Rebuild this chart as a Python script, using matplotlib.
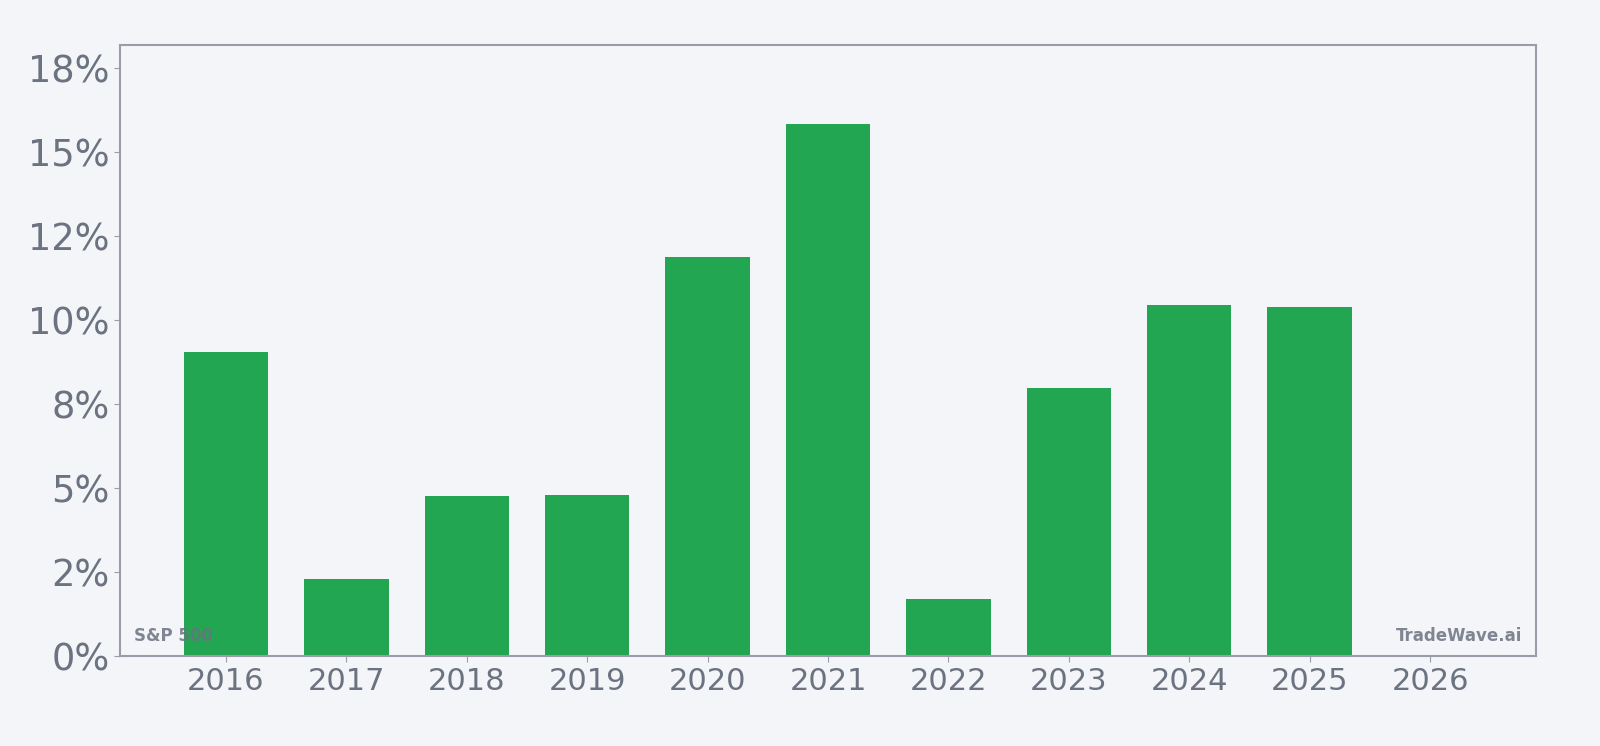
import numpy as np
import matplotlib.pyplot as plt
from matplotlib.ticker import FuncFormatter

# Datos
years = [2016, 2017, 2018, 2019, 2020, 2021, 2022, 2023, 2024, 2025, 2026]
returns = [9.05, 2.3, 4.77, 4.8, 11.88, 15.83, 1.72, 7.99, 10.45, 10.39, 0.0]

bg = '#f3f5f8'
txt = '#6b7280'
edge = '#9b9ca8'

fig = plt.figure(figsize=(16, 7.46), dpi=100, facecolor=bg)
ax = fig.add_axes([0.075, 0.12, 0.885, 0.82], facecolor=bg)

ax.bar(years, returns, width=0.7, color='#22a652', zorder=2)

ax.set_xlim(2016 - 0.88, 2026 + 0.88)
ax.set_ylim(0, 18.2)
ax.set_xticks(years)
ax.set_yticks(np.arange(0, 18, 2.5))
ax.yaxis.set_major_formatter(FuncFormatter(lambda v, p: f'{v:.0f}%'))

ax.tick_params(axis='y', labelsize=26.5, colors=edge, labelcolor=txt, length=4)
ax.tick_params(axis='x', labelsize=22, colors=edge, labelcolor=txt, length=4)
for s in ax.spines.values():
    s.set_color(edge)
    s.set_linewidth(1.5)

# Marcas de agua
ax.text(0.01, 0.025, 'S&P 500', transform=ax.transAxes, fontsize=12,
        fontweight='bold', color=txt, alpha=0.85, zorder=3)
ax.text(0.99, 0.025, 'TradeWave.ai', transform=ax.transAxes, fontsize=12,
        fontweight='bold', color=txt, alpha=0.85, ha='right', zorder=3)

fig.savefig('out.png', dpi=100, facecolor=bg)
